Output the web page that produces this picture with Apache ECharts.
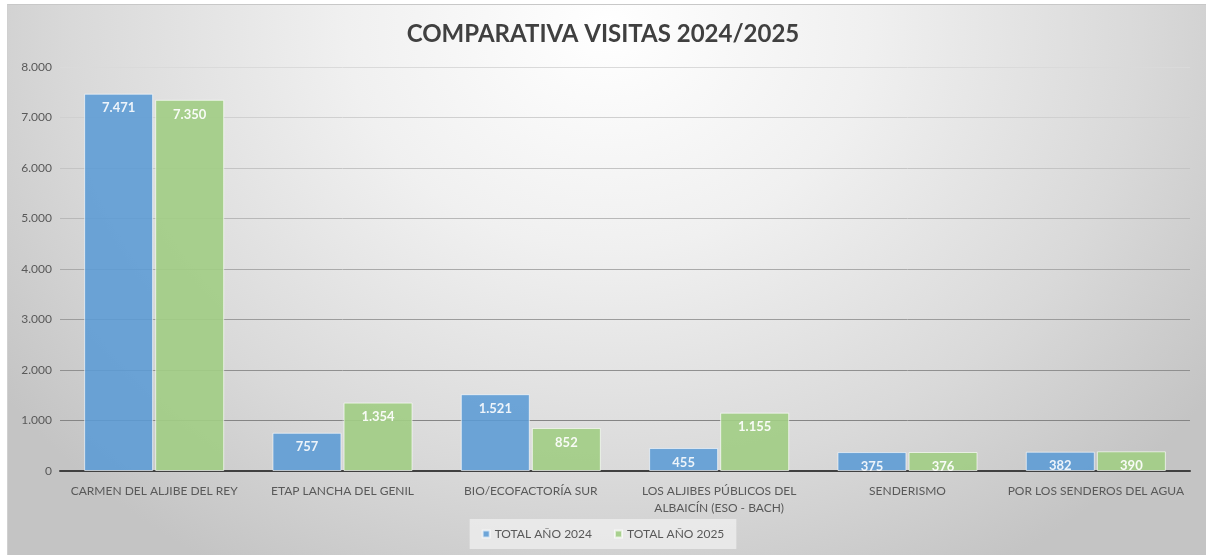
<!DOCTYPE html>
<html>
<head>
<meta charset="utf-8">
<script src="https://cdn.jsdelivr.net/npm/echarts@6/dist/echarts.min.js"></script>
<style>
  html, body { margin: 0; padding: 0; background: #fff; }
  #fondo {
    position: absolute; left: 7px; top: 4px; right: 0; bottom: 0;
    border-top: 1px solid #c8c8c8; border-left: 1px solid #d0d0d0;
    background: radial-gradient(ellipse 62% 115% at 50% 4%, #ffffff 0%, #f0f0f0 35%, #d9d9d9 72%, #c4c4c4 100%);
  }
  #grafico { position: absolute; left: 0; top: 0; width: 1206px; height: 555px; }
</style>
</head>
<body>
<div id="fondo"></div>
<div id="grafico"></div>
<script>
// Datos del gráfico
const categorias = [
    'CARMEN DEL ALJIBE DEL REY',
    'ETAP LANCHA DEL GENIL',
    'BIO/ECOFACTORÍA SUR',
    'LOS ALJIBES PÚBLICOS DEL\nALBAICÍN (ESO - BACH)',
    'SENDERISMO',
    'POR LOS SENDEROS DEL AGUA'
];
const total2024 = [7471, 757, 1521, 455, 375, 382];
const total2025 = [7350, 1354, 852, 1155, 376, 390];

// Formato con punto de miles
function miles(v) {
    return String(v).replace(/\B(?=(\d{3})+(?!\d))/g, '.');
}

const fuente = 'Lato, "Open Sans", sans-serif';

const etiqueta = {
    show: true,
    position: 'insideTop',
    distance: 8,
    color: '#fff',
    fontWeight: 'bold',
    fontSize: 13,
    fontFamily: fuente,
    formatter: p => miles(p.value)
};

const miGrafico = echarts.init(document.getElementById('grafico'));
miGrafico.setOption({
    backgroundColor: 'transparent',
    animation: false,
    title: {
        text: 'COMPARATIVA VISITAS 2024/2025',
        left: 'center',
        top: 17,
        textStyle: { fontFamily: fuente, fontSize: 24, fontWeight: 'bold', color: '#404040' }
    },
    legend: {
        bottom: 6,
        left: 'center',
        icon: 'rect',
        itemWidth: 7,
        itemHeight: 7,
        itemGap: 22,
        padding: [9, 12],
        backgroundColor: 'rgba(236,236,236,0.85)',
        textStyle: { fontFamily: fuente, fontSize: 12, color: '#595959' }
    },
    grid: { left: 60, right: 16, top: 67, bottom: 84 },
    xAxis: {
        type: 'category',
        data: categorias,
        axisTick: { show: false },
        axisLine: { lineStyle: { color: '#404040', width: 2 } },
        axisLabel: { fontFamily: fuente, fontSize: 12, color: '#595959', margin: 12, lineHeight: 17, interval: 0 }
    },
    yAxis: {
        type: 'value',
        min: 0,
        max: 8000,
        interval: 1000,
        axisLine: { show: false },
        axisTick: { show: false },
        axisLabel: { fontFamily: fuente, fontSize: 12, color: '#595959', margin: 8, formatter: v => miles(v) },
        splitLine: {
            lineStyle: {
                width: 1,
                color: ['#808080', '#858585', '#909090', '#9c9c9c', '#aaaaaa', '#b8b8b8', '#c4c4c4', '#d0d0d0', '#dadada']
            }
        }
    },
    series: [
        {
            name: 'TOTAL AÑO 2024',
            type: 'bar',
            data: total2024,
            barWidth: 69,
            barGap: '3%',
            itemStyle: { color: '#5b9bd5', opacity: 0.88, borderColor: 'rgba(255,255,255,0.7)', borderWidth: 1, borderRadius: 0 },
            label: etiqueta
        },
        {
            name: 'TOTAL AÑO 2025',
            type: 'bar',
            data: total2025,
            barWidth: 69,
            itemStyle: { color: '#a2cd85', opacity: 0.92, borderColor: 'rgba(255,255,255,0.7)', borderWidth: 1, borderRadius: 0 },
            label: etiqueta
        }
    ]
});
</script>
</body>
</html>
